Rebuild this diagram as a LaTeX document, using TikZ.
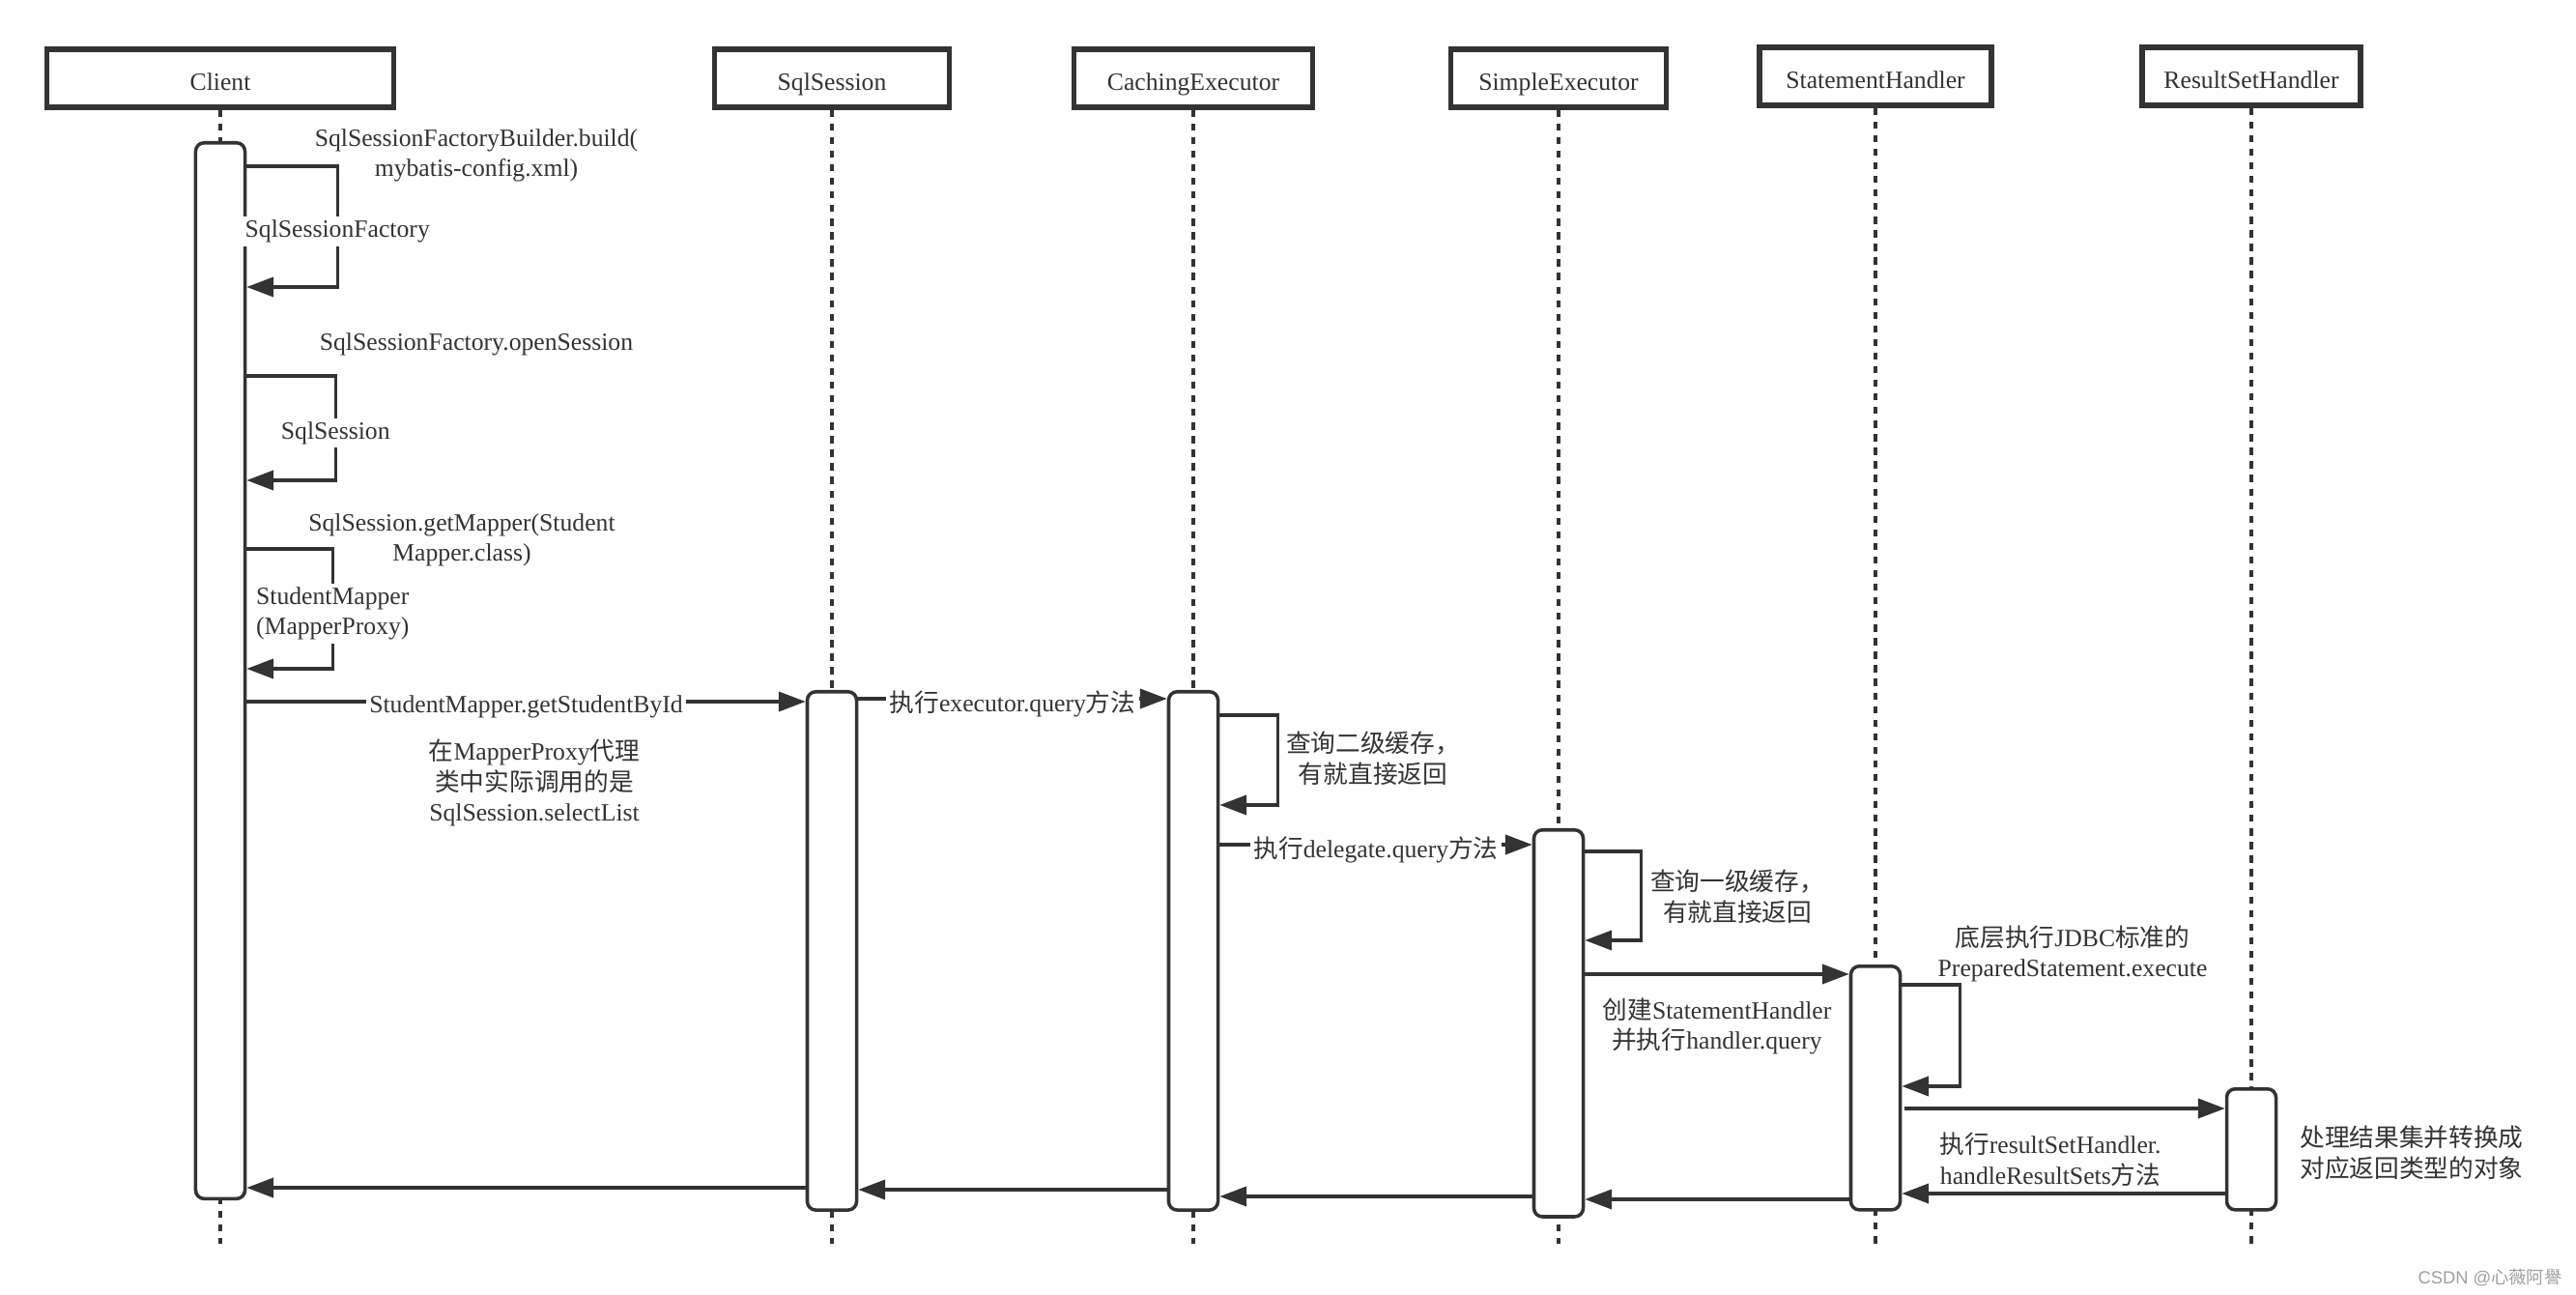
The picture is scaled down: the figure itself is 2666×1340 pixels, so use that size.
\documentclass[tikz,border=0pt]{standalone}
\usepackage{fontspec}
\setmainfont{Liberation Serif}
\newfontfamily\cjkfont{Noto Sans CJK SC}
\newfontfamily\wmfont{Liberation Sans}
\usepackage{tikz}
\usetikzlibrary{arrows.meta}
\definecolor{figline}{RGB}{51,51,51}
\definecolor{figmark}{RGB}{160,160,160}
\newcommand{\figsize}{\fontsize{7.3}{9}\selectfont}
\newcommand{\zhs}[1]{{\cjkfont #1}}
\tikzset{
  hdr/.style   ={draw=figline, line width=1.5pt, fill=white, minimum height=0.6cm, inner sep=0pt, text=figline, text height=7.3pt, text depth=0pt},
  life/.style  ={draw=figline, line width=0.9pt, dash pattern=on 2.1pt off 1.9pt},
  actbar/.style={draw=figline, line width=1pt, fill=white, rounded corners=2.5pt, minimum width=0.51cm, anchor=north, inner sep=0pt},
  msg/.style   ={draw=figline, line width=1pt, -{Triangle[length=7.9pt,width=5.7pt]}},
  lbl/.style   ={text=figline, align=center, inner sep=1pt, yshift=-0.02cm},
  onl/.style   ={lbl, fill=white, yshift=-0.03cm},
  zh/.style    ={lbl, font=\cjkfont\figsize},
}

\begin{document}
\begin{tikzpicture}[x=0.01cm, y=-0.01cm, font=\figsize]
  \fill[white] (0,0) rectangle (2666,1340);
  \useasboundingbox (0,0) rectangle (2666,1340);

  % participants
  \node[hdr, minimum width=3.59cm] (client) at (228,81) {Client};
  \node[hdr, minimum width=2.43cm] (sqls)   at (861,81) {SqlSession};
  \node[hdr, minimum width=2.47cm] (cache)  at (1235,81) {CachingExecutor};
  \node[hdr, minimum width=2.23cm] (simple) at (1613,81) {SimpleExecutor};
  \node[hdr, minimum width=2.40cm] (stmt)   at (1941,79) {StatementHandler};
  \node[hdr, minimum width=2.26cm] (rsh)    at (2330,79) {ResultSetHandler};

  \foreach \p in {client,sqls,cache,simple,stmt,rsh}
    \draw[life] (\p.south) -- (\p.south |- 0,1287);

  % activations
  \node[actbar, minimum height=10.92cm] (cbar)  at (228,146) {};
  \node[actbar, minimum height=5.36cm]  (sbar)  at (861,714) {};
  \node[actbar, minimum height=5.36cm]  (cebar) at (1235,714) {};
  \node[actbar, minimum height=4.00cm]  (sebar) at (1613,857) {};
  \node[actbar, minimum height=2.52cm]  (shbar) at (1941,998) {};
  \node[actbar, minimum height=1.25cm]  (rbar)  at (2330,1125) {};

  % client self calls
  \draw[msg] (cbar.east |- 0,172) -- ++(94,0) |- (cbar.east |- 0,297) node[onl,pos=0.25] {SqlSessionFactory};
  \node[lbl] (buildlbl) at (493,159) {SqlSessionFactoryBuilder.build(\\mybatis-config.xml)};
  \draw[msg] (cbar.east |- 0,389) -- ++(92,0) |- (cbar.east |- 0,497) node[onl,pos=0.25] {SqlSession};
  \node[lbl] (openlbl) at (493,354) {SqlSessionFactory.openSession};
  \draw[msg] (cbar.east |- 0,568) -- ++(89,0) |- (cbar.east |- 0,692) node[onl,pos=0.25] {StudentMapper\\(MapperProxy)};
  \node[lbl] (mapperlbl) at (478,557) {SqlSession.getMapper(Student\\Mapper.class)};

  % query chain
  \draw[msg] (cbar.east |- 0,726) -- (sbar.west |- 0,726) node[onl,midway] {StudentMapper.getStudentById};
  \node[lbl] (proxylbl) at (553,808) {\zhs{在}MapperProxy\zhs{代理}\\\zhs{类中实际调用的是}\\SqlSession.selectList};
  \draw[msg] (sbar.east |- 0,723) -- (cebar.west |- 0,723) node[onl,midway] {\zhs{执行}executor.query\zhs{方法}};
  \draw[msg] (cebar.east |- 0,740) -- ++(60,0) |- (cebar.east |- 0,833);
  \node[zh] (cache2lbl) at (1421,783) {查询二级缓存，\\有就直接返回};
  \draw[msg] (cebar.east |- 0,874) -- (sebar.west |- 0,874) node[onl,midway] {\zhs{执行}delegate.query\zhs{方法}};
  \draw[msg] (sebar.east |- 0,881) -- ++(58,0) |- (sebar.east |- 0,973);
  \node[zh] (cache1lbl) at (1798,926) {查询一级缓存，\\有就直接返回};
  \draw[msg] (sebar.east |- 0,1008) -- (shbar.west |- 0,1008);
  \node[lbl] (createlbl) at (1777,1060) {\zhs{创建}StatementHandler\\\zhs{并执行}handler.query};
  \draw[msg] (shbar.east |- 0,1019) -- ++(60,0) |- (shbar.east |- 0,1124);
  \node[lbl] (jdbclbl) at (2145,985) {\zhs{底层执行}JDBC\zhs{标准的}\\PreparedStatement.execute};
  \draw[msg] ([xshift=0.03cm]shbar.east |- 0,1147) -- (rbar.west |- 0,1147);
  \node[lbl] (rshlbl) at (2122,1198) {\zhs{执行}resultSetHandler.\\handleResultSets\zhs{方法}};
  \node[zh] (convlbl) at (2496,1191) {处理结果集并转换成\\对应返回类型的对象};

  % returns
  \draw[msg] (rbar.west |- 0,1235) -- (shbar.east |- 0,1235);
  \draw[msg] (shbar.west |- 0,1241) -- (sebar.east |- 0,1241);
  \draw[msg] (sebar.west |- 0,1238) -- (cebar.east |- 0,1238);
  \draw[msg] (cebar.west |- 0,1231) -- (sbar.east |- 0,1231);
  \draw[msg] (sbar.west |- 0,1229) -- (cbar.east |- 0,1229);

  \node[text=figmark, inner sep=0pt, font=\fontsize{5.2}{6}\selectfont] (mark) at (2577,1322) {\wmfont CSDN @\zhs{心薇阿譽}};
\end{tikzpicture}
\end{document}
